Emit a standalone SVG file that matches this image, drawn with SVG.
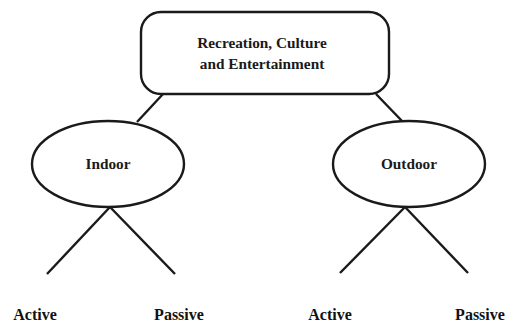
<svg xmlns="http://www.w3.org/2000/svg" width="512" height="324" viewBox="0 0 512 324">
  <style>
    .shape { fill: #ffffff; stroke: #1a1a1a; stroke-width: 2.4; }
    .edge { stroke: #1a1a1a; stroke-width: 2.4; fill: none; }
    .lbl { font-family: "Liberation Serif", "Times New Roman", serif; font-size: 15.3px; font-weight: bold; fill: #1a1a1a; text-anchor: middle; }
    .leaf { font-family: "Liberation Serif", "Times New Roman", serif; font-size: 16px; font-weight: bold; fill: #111111; text-anchor: middle; }
  </style>
  <rect width="512" height="324" fill="#ffffff"/>
  <g id="connectors">
    <line class="edge" x1="163" y1="94" x2="137" y2="122"/>
    <line class="edge" x1="376" y1="94" x2="402" y2="121"/>
    <line class="edge" x1="110" y1="207" x2="47" y2="274"/>
    <line class="edge" x1="110" y1="207" x2="175" y2="274"/>
    <line class="edge" x1="405" y1="207" x2="340" y2="273"/>
    <line class="edge" x1="405" y1="207" x2="468" y2="273"/>
  </g>
  <g id="root">
    <rect class="shape" x="141" y="12" width="248" height="82" rx="20" ry="20"/>
    <text class="lbl" x="262" y="48">Recreation, Culture</text>
    <text class="lbl" x="262" y="69">and Entertainment</text>
  </g>
  <g id="indoor">
    <ellipse class="shape" cx="108" cy="164" rx="76" ry="43"/>
    <text class="lbl" x="108" y="169">Indoor</text>
  </g>
  <g id="outdoor">
    <ellipse class="shape" cx="409" cy="164" rx="76" ry="43"/>
    <text class="lbl" x="409" y="169">Outdoor</text>
  </g>
  <g id="indoor-active"><text class="leaf" x="35" y="320">Active</text></g>
  <g id="indoor-passive"><text class="leaf" x="179" y="320">Passive</text></g>
  <g id="outdoor-active"><text class="leaf" x="330" y="320">Active</text></g>
  <g id="outdoor-passive"><text class="leaf" x="480" y="320">Passive</text></g>
</svg>
